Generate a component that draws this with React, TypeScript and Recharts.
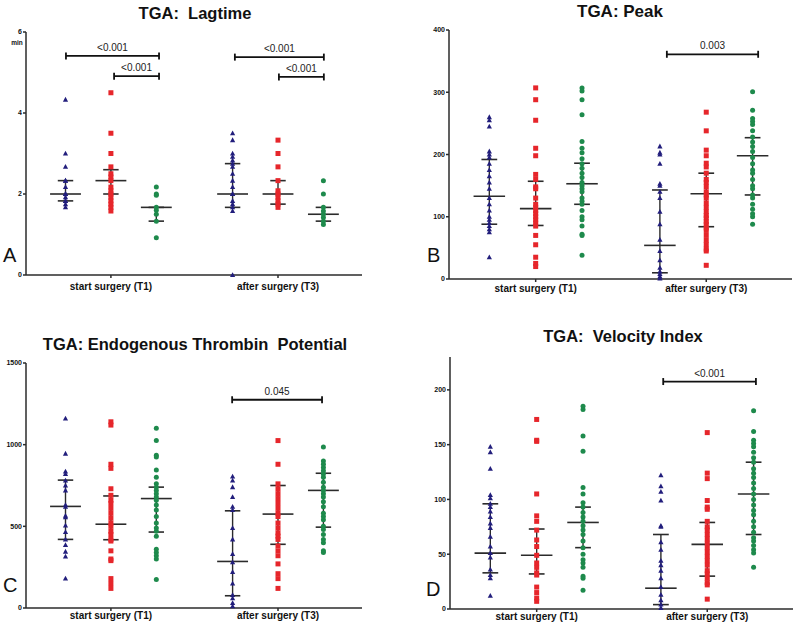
import React from "react";
import {
  ComposedChart,
  Scatter,
  XAxis,
  YAxis,
  ReferenceLine,
  ReferenceDot,
} from "recharts";

const font = "'Liberation Sans', Arial, Helvetica, sans-serif";

// group order: blue, red, green at T1, then the same at T3
const groupX = [0.87, 1.87, 2.87, 4.55, 5.55, 6.55];
const timeTicks = [1.87, 5.55];
const timeLabels = ["start surgery (T1)", "after surgery (T3)"];
const groupColors = ["#221e7c", "#e6262b", "#1e8a4c"];

// A: lagtime (min)
const lagBlueT1 = [4.33, 3.0, 2.67, 2.33, 2.33, 2.17, 2.0, 2.0, 2.0, 1.92, 1.83, 1.83, 1.75, 1.67];
const lagRedT1 = [4.5, 3.5, 3.0, 2.67, 2.5, 2.42, 2.33, 2.17, 2.08, 2.0, 1.92, 1.83, 1.75, 1.67, 1.58];
const lagGreenT1 = [2.17, 2.0, 1.97, 1.67, 1.6, 1.5, 1.33, 0.92];
const lagBlueT3 = [3.5, 3.33, 3.0, 2.92, 2.83, 2.75, 2.67, 2.5, 2.33, 2.17, 2.0, 2.0, 1.83, 1.75, 1.67, 1.58, 0];
const lagRedT3 = [3.33, 3.0, 2.67, 2.33, 2.08, 2.0, 1.92, 1.83, 1.75, 1.67];
const lagGreenT3 = [2.33, 2.0, 1.67, 1.58, 1.5, 1.42, 1.33, 1.25];
const lagMedian = [2.0, 2.33, 1.67, 2.0, 2.0, 1.5];
const lagQ1 = [1.83, 2.0, 1.33, 1.67, 1.75, 1.33];
const lagQ3 = [2.33, 2.6, 1.67, 2.75, 2.33, 1.67];
const lagTicks = [0, 2, 4, 6];

// B: peak
const peakBlueT1 = [260, 255, 245, 205, 200, 195, 185, 175, 165, 155, 145, 130, 120, 110, 100, 95, 90, 85, 80, 75, 35];
const peakRedT1 = [307, 288, 255, 210, 198, 168, 160, 148, 145, 130, 120, 115, 110, 105, 100, 95, 90, 85, 70, 55, 35, 25, 20];
const peakGreenT1 = [307, 302, 288, 264, 221, 210, 203, 193, 185, 178, 170, 163, 155, 150, 145, 140, 130, 125, 120, 110, 100, 95, 85, 72, 70, 38];
const peakBlueT3 = [213, 203, 200, 185, 153, 150, 140, 130, 108, 88, 63, 45, 30, 18, 12, 8, 4, 1];
const peakRedT3 = [268, 238, 207, 198, 186, 180, 170, 160, 155, 148, 140, 135, 130, 122, 115, 108, 102, 98, 92, 88, 82, 78, 70, 62, 55, 48, 45, 22];
const peakGreenT3 = [301, 271, 258, 253, 248, 238, 228, 220, 213, 205, 195, 185, 175, 170, 160, 150, 145, 135, 130, 120, 112, 105, 100, 88];
const peakMedian = [133, 113, 153, 54, 137, 198];
const peakQ1 = [88, 86, 120, 10, 84, 135];
const peakQ3 = [192, 157, 186, 143, 170, 227];
const peakTicks = [0, 100, 200, 300, 400];

// C: endogenous thrombin potential
const etpBlueT1 = [1160, 945, 835, 820, 780, 750, 720, 630, 620, 565, 555, 505, 465, 420, 385, 345, 315, 180];
const etpRedT1 = [1140, 1120, 880, 855, 730, 690, 660, 640, 610, 580, 550, 520, 500, 470, 450, 420, 410, 350, 300, 290, 180, 150, 120];
const etpGreenT1 = [1100, 1025, 935, 925, 845, 800, 760, 740, 720, 700, 680, 660, 630, 600, 560, 520, 490, 470, 440, 360, 340, 320, 300, 175];
const etpBlueT3 = [805, 780, 740, 680, 620, 600, 490, 420, 330, 280, 220, 150, 80, 60, 30, 10];
const etpRedT3 = [1025, 880, 760, 730, 700, 670, 640, 610, 580, 560, 520, 490, 460, 440, 420, 380, 350, 320, 270, 210, 180, 120];
const etpGreenT3 = [985, 900, 880, 860, 840, 820, 800, 770, 740, 720, 700, 680, 650, 620, 580, 560, 540, 500, 480, 450, 420, 400, 350, 340];
const etpMedian = [622, 513, 670, 285, 575, 720];
const etpQ1 = [420, 418, 465, 75, 390, 495];
const etpQ3 = [783, 686, 740, 595, 750, 825];
const etpTicks = [0, 500, 1000, 1500];

// D: velocity index
const viBlueT1 = [148, 143, 128, 104, 101, 96, 93, 89, 84, 78, 74, 66, 57, 51, 47, 36, 31, 28, 12];
const viRedT1 = [173, 154, 153, 105, 85, 80, 72, 63, 57, 49, 42, 38, 33, 31, 20, 15, 10, 7];
const viGreenT1 = [185, 182, 158, 144, 111, 105, 97, 93, 88, 84, 80, 76, 72, 68, 62, 56, 50, 45, 42, 38, 30, 28, 17];
const viBlueT3 = [122, 112, 107, 99, 76, 75, 61, 54, 44, 40, 35, 28, 20, 13, 8, 4, 1];
const viRedT3 = [161, 124, 119, 99, 93, 91, 80, 75, 72, 68, 64, 60, 56, 52, 48, 44, 40, 35, 32, 28, 24, 22, 9];
const viGreenT3 = [181, 162, 154, 151, 148, 143, 138, 134, 128, 124, 120, 115, 110, 105, 100, 95, 90, 86, 80, 75, 70, 65, 62, 58, 54, 51, 38];
const viMedian = [51, 49, 79, 19, 59, 105];
const viQ1 = [33, 32, 56, 4, 30, 68];
const viQ3 = [96, 73, 93, 68, 79, 134];
const viTicks = [0, 50, 100, 150, 200];

// significance brackets: [x from, x to, level, text]
const lagBrackets = [
  [0.88, 2.93, 5.41, "<0.001"],
  [1.94, 2.93, 4.91, "<0.001"],
  [4.6, 6.56, 5.38, "<0.001"],
  [5.57, 6.56, 4.89, "<0.001"],
];
const peakBrackets = [[4.7, 6.67, 361, "0.003"]];
const etpBrackets = [[4.54, 6.52, 1275, "0.045"]];
const viBrackets = [[4.6, 6.6, 207.6, "<0.001"]];

const panels = [
  {
    letter: "A", title: "TGA:  Lagtime", titleX: 195, titleY: 19, titleSize: 16.5,
    letterX: 3, letterY: 262, box: [0, 0, 400, 310], plot: [26, 362, 32, 275],
    domain: [0, 6], ticks: lagTicks, tickMargin: 5,
    groups: [lagBlueT1, lagRedT1, lagGreenT1, lagBlueT3, lagRedT3, lagGreenT3],
    median: lagMedian, q1: lagQ1, q3: lagQ3, brackets: lagBrackets,
  },
  {
    letter: "B", title: "TGA: Peak", titleX: 620, titleY: 17, titleSize: 17,
    letterX: 427, letterY: 262, box: [400, 0, 400, 310], plot: [449, 792, 30, 279],
    domain: [0, 400], ticks: peakTicks, tickMargin: 3,
    groups: [peakBlueT1, peakRedT1, peakGreenT1, peakBlueT3, peakRedT3, peakGreenT3],
    median: peakMedian, q1: peakQ1, q3: peakQ3, brackets: peakBrackets,
  },
  {
    letter: "C", title: "TGA: Endogenous Thrombin  Potential", titleX: 195, titleY: 350, titleSize: 16.5,
    letterX: 3, letterY: 592, box: [0, 310, 400, 317], plot: [26, 362, 363, 608],
    domain: [0, 1500], ticks: etpTicks, tickMargin: 1,
    groups: [etpBlueT1, etpRedT1, etpGreenT1, etpBlueT3, etpRedT3, etpGreenT3],
    median: etpMedian, q1: etpQ1, q3: etpQ3, brackets: etpBrackets,
  },
  {
    letter: "D", title: "TGA:  Velocity Index", titleX: 623, titleY: 342, titleSize: 16.5,
    letterX: 426, letterY: 596, box: [400, 310, 400, 317], plot: [450, 793, 357, 609],
    domain: [0, 230], ticks: viTicks, tickMargin: 1,
    groups: [viBlueT1, viRedT1, viGreenT1, viBlueT3, viRedT3, viGreenT3],
    median: viMedian, q1: viQ1, q3: viQ3, brackets: viBrackets,
  },
];

const Triangle = (p: any) => (
  <polygon
    points={`${p.cx},${p.cy - 2.8} ${p.cx - 2.6},${p.cy + 2} ${p.cx + 2.6},${p.cy + 2}`}
    fill={groupColors[0]}
  />
);
const Square = (p: any) => (
  <rect x={p.cx - 2.5} y={p.cy - 2.5} width={5} height={5} fill={groupColors[1]} />
);
const Dot = (p: any) => <circle cx={p.cx} cy={p.cy} r={2.5} fill={groupColors[2]} />;
const shapes = [Triangle, Square, Dot];

const ink = "#2b2b2b";

function Panel({ cfg }: { cfg: any }) {
  const [left, top, width, height] = cfg.box;
  const [pl, pr, pt, pb] = cfg.plot;
  const perPx = cfg.domain[1] / (pb - pt);
  const medHalf = 0.34;
  const capHalf = 0.17;
  const brCap = 3.5 * perPx;

  return (
    <div style={{ position: "absolute", left, top, width, height }}>
      <ComposedChart
        width={width}
        height={height}
        margin={{ top: pt - top, right: left + width - pr, bottom: top + height - pb - 15, left: 0 }}
      >
        <XAxis
          type="number"
          dataKey="x"
          domain={[0, 7.4]}
          ticks={timeTicks}
          tickFormatter={(v: number) => timeLabels[timeTicks.indexOf(v)]}
          height={15}
          tickSize={3}
          tickMargin={cfg.tickMargin}
          stroke={ink}
          strokeWidth={1.5}
          tick={{ fontSize: 10, fontWeight: "bold", fill: "#111", fontFamily: font }}
        />
        <YAxis
          type="number"
          dataKey="y"
          domain={cfg.domain}
          ticks={cfg.ticks}
          width={pl - left}
          tickSize={3}
          tickMargin={1}
          stroke={ink}
          strokeWidth={1.5}
          tick={{ fontSize: 7, fontWeight: "bold", fill: "#111", fontFamily: font }}
        />
        {cfg.groups.map((g: number[], i: number) => (
          <Scatter
            key={`s${i}`}
            data={g.map((v) => ({ x: groupX[i], y: v }))}
            shape={shapes[i % 3]}
            isAnimationActive={false}
          />
        ))}
        {cfg.median.map((m: number, i: number) => (
          <ReferenceLine
            key={`m${i}`}
            segment={[{ x: groupX[i] - medHalf, y: m }, { x: groupX[i] + medHalf, y: m }]}
            stroke={ink}
            strokeWidth={1.6}
          />
        ))}
        {cfg.q1.map((q: number, i: number) => (
          <ReferenceLine
            key={`v${i}`}
            segment={[{ x: groupX[i], y: q }, { x: groupX[i], y: cfg.q3[i] }]}
            stroke={ink}
            strokeWidth={1.4}
          />
        ))}
        {cfg.q1.map((q: number, i: number) => (
          <ReferenceLine
            key={`a${i}`}
            segment={[{ x: groupX[i] - capHalf, y: q }, { x: groupX[i] + capHalf, y: q }]}
            stroke={ink}
            strokeWidth={1.6}
          />
        ))}
        {cfg.q3.map((q: number, i: number) => (
          <ReferenceLine
            key={`b${i}`}
            segment={[{ x: groupX[i] - capHalf, y: q }, { x: groupX[i] + capHalf, y: q }]}
            stroke={ink}
            strokeWidth={1.6}
          />
        ))}
        {cfg.brackets.map((b: any[], i: number) => (
          <ReferenceLine
            key={`br${i}`}
            segment={[{ x: b[0], y: b[2] }, { x: b[1], y: b[2] }]}
            stroke="#111"
            strokeWidth={1.8}
          />
        ))}
        {cfg.brackets.map((b: any[], i: number) => (
          <ReferenceLine
            key={`bl${i}`}
            segment={[{ x: b[0], y: b[2] - brCap }, { x: b[0], y: b[2] + brCap }]}
            stroke="#111"
            strokeWidth={1.8}
          />
        ))}
        {cfg.brackets.map((b: any[], i: number) => (
          <ReferenceLine
            key={`bre${i}`}
            segment={[{ x: b[1], y: b[2] - brCap }, { x: b[1], y: b[2] + brCap }]}
            stroke="#111"
            strokeWidth={1.8}
          />
        ))}
        {cfg.brackets.map((b: any[], i: number) => (
          <ReferenceDot
            key={`t${i}`}
            x={(b[0] + b[1]) / 2}
            y={b[2]}
            r={0}
            fill="none"
            stroke="none"
            label={{ value: b[3], position: "top", offset: 5, fontSize: 10, fill: "#222", fontFamily: font }}
          />
        ))}
      </ComposedChart>
    </div>
  );
}

export default function App() {
  return (
    <div style={{ position: "absolute", left: 0, top: 0, width: 800, height: 627, background: "#fff" }}>
      {panels.map((p) => (
        <Panel key={p.letter} cfg={p} />
      ))}
      <svg
        width={800}
        height={627}
        style={{ position: "absolute", left: 0, top: 0, pointerEvents: "none" }}
        fontFamily={font}
      >
        {panels.map((p) => (
          <g key={p.letter}>
            <text
              x={p.titleX}
              y={p.titleY}
              textAnchor="middle"
              fontSize={p.titleSize}
              fontWeight="bold"
              fill="#111"
              style={{ whiteSpace: "pre" }}
            >
              {p.title}
            </text>
            <text x={p.letterX} y={p.letterY} fontSize={20} fill="#111">
              {p.letter}
            </text>
          </g>
        ))}
        <text x={17} y={45} textAnchor="middle" fontSize={6.5} fontWeight="bold" fill="#111">
          min
        </text>
      </svg>
    </div>
  );
}
